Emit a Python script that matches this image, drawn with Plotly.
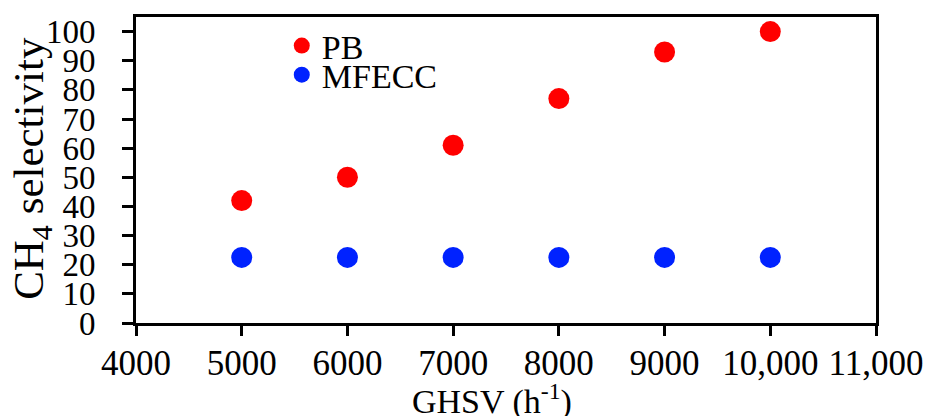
import plotly.graph_objects as go

ghsv = [5000, 6000, 7000, 8000, 9000, 10000]
pb = [42, 50, 61, 77, 93, 100]
mfecc = [22.5, 22.5, 22.5, 22.5, 22.5, 22.5]
x_ticks = [4000, 5000, 6000, 7000, 8000, 9000, 10000, 11000]
x_ticktext = ["4000", "5000", "6000", "7000", "8000", "9000", "10,000", "11,000"]
y_ticks = list(range(0, 101, 10))
x_title = "GHSV (h<sup>-1</sup>)"
y_title = "CH<sub>4</sub> selectivity"

FONT = "Times New Roman, Liberation Serif, serif"

fig = go.Figure()
fig.add_trace(go.Scatter(x=ghsv, y=pb, mode="markers", name="PB", legend="legend",
                         marker=dict(color="#ff0000", size=21)))
fig.add_trace(go.Scatter(x=ghsv, y=mfecc, mode="markers", name="MFECC", legend="legend2",
                         marker=dict(color="#0022ff", size=21)))

leg_common = dict(xanchor="left", yanchor="top", bgcolor="rgba(0,0,0,0)",
                  font=dict(family=FONT, size=34), itemwidth=30,
                  borderwidth=0)

fig.update_layout(
    width=933, height=408,
    margin=dict(l=128, r=65, t=6, b=93),
    plot_bgcolor="white", paper_bgcolor="white",
    font=dict(family=FONT, size=34, color="black"),
    showlegend=True,
    legend=dict(x=0.197, y=1.0, **leg_common),
    legend2=dict(x=0.197, y=0.905, **leg_common),
    annotations=[
        dict(text=x_title, xref="paper", yref="paper", x=0.481, y=-0.25,
             xanchor="center", yanchor="middle", showarrow=False,
             font=dict(family=FONT, size=34, color="black")),
        dict(text=y_title, xref="paper", yref="paper", x=-0.14, y=0.505,
             xanchor="center", yanchor="middle", showarrow=False, textangle=-90,
             font=dict(family=FONT, size=43, color="black")),
    ],
)
fig.update_xaxes(
    range=[4000, 11000], tickvals=x_ticks, ticktext=x_ticktext,
    showline=True, linecolor="black", linewidth=3, mirror=True,
    ticks="outside", ticklen=10, tickwidth=3, tickcolor="black",
    showgrid=False, zeroline=False, ticklabelposition="outside",
    tickfont=dict(family=FONT, size=35), ticklabelstandoff=-3,
)
fig.update_yaxes(
    range=[0, 105], tickvals=y_ticks,
    showline=True, linecolor="black", linewidth=3, mirror=True,
    ticks="outside", ticklen=11, tickwidth=3, tickcolor="black",
    showgrid=False, zeroline=False, ticklabelposition="outside",
    ticklabelstandoff=20,
    tickfont=dict(family=FONT, size=33),
)

fig.write_html("out.html")
